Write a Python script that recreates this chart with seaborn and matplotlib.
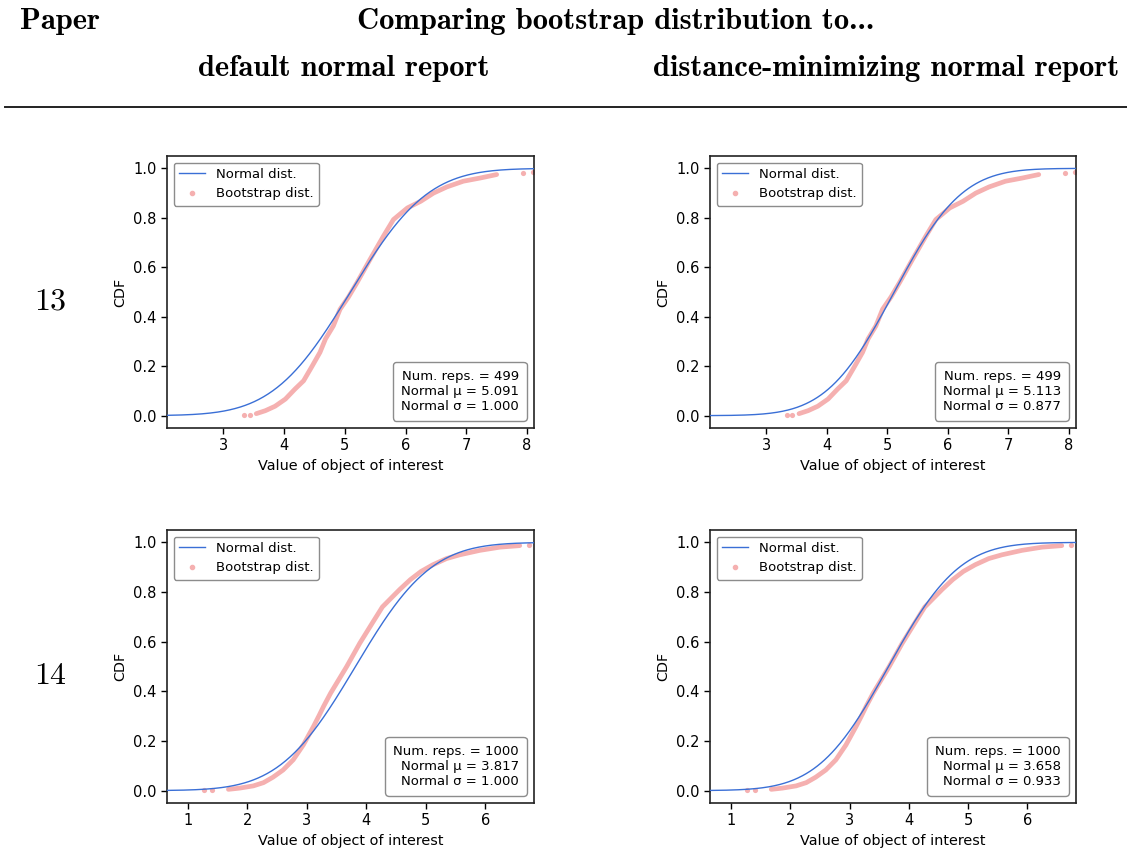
import math
import numpy as np
import matplotlib
matplotlib.use('Agg')
import matplotlib.pyplot as plt
import seaborn as sns
from matplotlib.lines import Line2D
from matplotlib.offsetbox import AnchoredText

# papers (rows) and the two normal reports (columns)
paper_ids = ['13', '14']
num_reps = [499, 1000]
default_mu = [5.091, 3.817]
default_sigma = [1.000, 1.000]
distmin_mu = [5.113, 3.658]
distmin_sigma = [0.877, 0.933]

# bootstrap ECDF (dense part of the curve)
boot13_x = [3.54, 3.69, 3.85, 4.02, 4.18, 4.32, 4.46, 4.59, 4.68, 4.81, 4.92, 5.06, 5.20,
            5.415, 5.635, 5.80, 6.03, 6.25, 6.46, 6.68, 6.95, 7.23, 7.50]
boot13_cdf = [0.008, 0.02, 0.038, 0.067, 0.108, 0.141, 0.20, 0.256, 0.31, 0.363, 0.43, 0.48, 0.538,
              0.632, 0.726, 0.793, 0.84, 0.867, 0.90, 0.925, 0.948, 0.961, 0.975]
# isolated draws in the tails
boot13_tail_x = [3.34, 3.43, 7.93, 8.10]
boot13_tail_cdf = [0.002, 0.004, 0.981, 0.984]

boot14_x = [1.68, 1.87, 2.10, 2.27, 2.43, 2.60, 2.77, 2.94, 3.11, 3.20, 3.28, 3.40, 3.67, 3.89,
            4.10, 4.27, 4.56, 4.74, 4.92, 5.12, 5.35, 5.57, 5.91, 6.25, 6.58]
boot14_cdf = [0.005, 0.010, 0.019, 0.032, 0.054, 0.083, 0.124, 0.184, 0.258, 0.30, 0.339, 0.393,
              0.50, 0.594, 0.675, 0.74, 0.81, 0.85, 0.883, 0.91, 0.935, 0.95, 0.968, 0.981, 0.987]
boot14_tail_x = [1.27, 1.40, 6.74]
boot14_tail_cdf = [0.003, 0.004, 0.991]

boot_x = [boot13_x, boot14_x]
boot_cdf = [boot13_cdf, boot14_cdf]
tail_x = [boot13_tail_x, boot14_tail_x]
tail_cdf = [boot13_tail_cdf, boot14_tail_cdf]

row_xlim = [(2.07, 8.115), (0.647, 6.82)]
row_xticks = [[3, 4, 5, 6, 7, 8], [1, 2, 3, 4, 5, 6]]

blue = '#3a6fd6'
pink = '#f5b0b0'

def normal_cdf(x, mu, sigma):
    return np.array([0.5 * (1 + math.erf((v - mu) / (sigma * math.sqrt(2)))) for v in x])

W, H = 1127, 859
fig = plt.figure(figsize=(W / 100, H / 100), dpi=100)

# header, LaTeX-table look
hdr = dict(family='cmb10', fontsize=22, va='baseline')
fig.text(20 / W, 1 - 29 / H, 'Paper', ha='left', **hdr)
fig.text(616 / W, 1 - 29 / H, 'Comparing bootstrap distribution to...', ha='center', **hdr)
fig.text(344 / W, 1 - 76 / H, 'default normal report', ha='center', **hdr)
fig.text(886 / W, 1 - 76 / H, 'distance-minimizing normal report', ha='center', **hdr)
fig.add_artist(Line2D([5 / W, 1], [1 - 107 / H] * 2, transform=fig.transFigure,
                      color='#222222', lw=1.4))

row_top = [156, 530]
row_bottom = [428, 803]
col_left = [167, 710]
col_right = [534, 1076]
label_base = [310, 684]

for r in range(2):
    fig.text(34 / W, 1 - label_base[r] / H, paper_ids[r], family='cmr10', fontsize=23,
             ha='left', va='baseline')
    mus = [default_mu[r], distmin_mu[r]]
    sigmas = [default_sigma[r], distmin_sigma[r]]
    for c in range(2):
        ax = fig.add_axes([col_left[c] / W, 1 - row_bottom[r] / H,
                           (col_right[c] - col_left[c]) / W, (row_bottom[r] - row_top[r]) / H])
        xs = np.linspace(row_xlim[r][0], row_xlim[r][1], 400)
        sns.lineplot(x=boot_x[r], y=boot_cdf[r], ax=ax, color=pink, lw=3.4,
                     estimator=None, solid_capstyle='round', zorder=2)
        sns.scatterplot(x=tail_x[r], y=tail_cdf[r], ax=ax, color=pink, s=14,
                        linewidth=0, zorder=2)
        sns.lineplot(x=xs, y=normal_cdf(xs, mus[c], sigmas[c]), ax=ax, color=blue,
                     lw=1.0, estimator=None, zorder=3)
        ax.set_xlim(*row_xlim[r])
        ax.set_ylim(-0.05, 1.05)
        ax.set_xticks(row_xticks[r])
        ax.set_yticks([0, 0.2, 0.4, 0.6, 0.8, 1.0])
        ax.set_yticklabels(['0.0', '0.2', '0.4', '0.6', '0.8', '1.0'])
        ax.tick_params(labelsize=10.5, width=1.0, length=4)
        ax.set_xlabel('Value of object of interest', fontsize=10.4)
        ax.set_ylabel('CDF', fontsize=10.4)
        for s in ax.spines.values():
            s.set_linewidth(1.2)
            s.set_color('#222222')

        handles = [Line2D([], [], color=blue, lw=1.0, label='Normal dist.'),
                   Line2D([], [], ls='none', marker='o', ms=3.0, color=pink,
                          label='Bootstrap dist.')]
        ax.legend(handles=handles, loc='upper left', fontsize=9.5, edgecolor='0.55',
                  framealpha=1)

        txt = 'Num. reps. = %d\nNormal \u03bc = %.3f\nNormal \u03c3 = %.3f' % (
            num_reps[r], mus[c], sigmas[c])
        at = AnchoredText(txt, loc='lower right', pad=0.6, borderpad=0.55,
                          prop=dict(size=9.5, multialignment='right'))
        at.patch.set_boxstyle('round,pad=0,rounding_size=0.25')
        at.patch.set_edgecolor('0.55')
        ax.add_artist(at)

fig.savefig('out.png', dpi=100)
